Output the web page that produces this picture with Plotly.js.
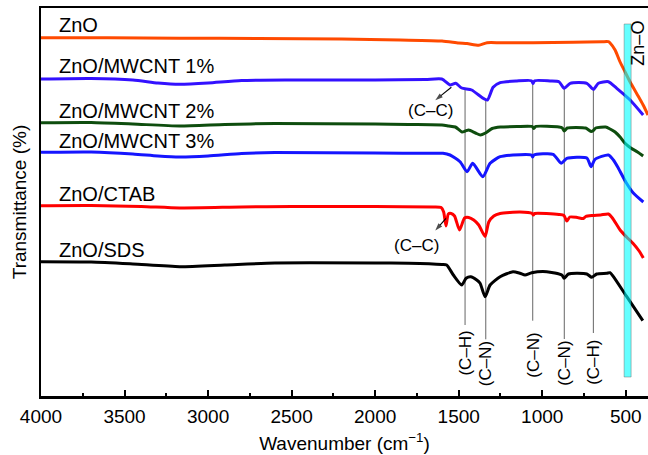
<!DOCTYPE html>
<html>
<head>
<meta charset="utf-8">
<script src="https://cdn.plot.ly/plotly-3.0.1.min.js"></script>
<style>
  html, body { margin: 0; padding: 0; background: #fff; }
  #chart { width: 648px; height: 455px; }
</style>
</head>
<body>
<div id="chart"></div>
<script>
// FTIR spectra, offset vertically (transmittance in arbitrary units)
const seriesNames = ['ZnO', 'ZnO/MWCNT 1%', 'ZnO/MWCNT 2%', 'ZnO/MWCNT 3%', 'ZnO/CTAB', 'ZnO/SDS'];
const seriesColors = ['#ff4a00', '#3311ff', '#0e4d0e', '#1515ff', '#ff0000', '#000000'];

const wnZnO = [4000, 3600, 3170, 2700, 2200, 1850, 1600, 1500, 1450, 1380, 1330, 1250, 1055, 815, 640, 604, 594, 564, 534, 504, 474, 426, 396, 367];
const tZnO  = [358.3, 358.2, 357.8, 357.5, 357, 356, 355, 353, 352.5, 350.7, 353.3, 353.3, 353.3, 353.7, 354.3, 354.3, 353, 346, 334, 324, 314, 300, 291, 281];

const wnM1 = [4000, 3700, 3450, 3300, 3170, 3000, 2800, 2500, 2000, 1700, 1601, 1552, 1518, 1482, 1422, 1354, 1328, 1294, 1252, 1152, 1065, 1055, 1045, 953, 900, 869, 833, 733, 694, 664, 604, 554, 474, 396];
const tM1  = [317, 317.5, 316, 313, 311.7, 313, 315.5, 316, 316, 316.5, 317, 311, 312.7, 308, 306, 297.7, 296, 308.7, 313.3, 315, 315.3, 312.5, 315.3, 315, 314.3, 307.7, 312.7, 312.7, 306.7, 312.7, 314.3, 307.7, 296, 281];

const wnM2 = [4000, 3700, 3450, 3170, 2900, 2600, 2000, 1800, 1600, 1560, 1520, 1480, 1460, 1440, 1400, 1370, 1340, 1300, 1250, 1150, 1060, 1050, 1040, 900, 880, 868, 850, 740, 708, 694, 680, 620, 594, 564, 534, 506, 470, 430, 396];
const tM2  = [273.3, 273.5, 272, 270, 271.5, 272.5, 272, 271.5, 271, 270, 269, 264, 265, 266, 263, 261, 263, 267.5, 269, 269.5, 269.5, 267.5, 269.5, 269, 268, 265, 268, 268, 264.5, 265.5, 268, 269, 267, 264, 259, 253, 248, 244, 240];

const wnM3 = [4000, 3700, 3450, 3300, 3170, 3000, 2800, 2600, 2000, 1650, 1594, 1552, 1492, 1450, 1416, 1356, 1312, 1252, 1175, 1065, 1057, 1050, 935, 887, 853, 733, 708, 684, 604, 574, 545, 500, 455, 395];
const tM3  = [243.7, 244, 242, 240, 239, 240, 242.5, 243.5, 243, 242.7, 242.7, 241, 234.3, 224.3, 232.7, 219.3, 232.7, 239.3, 241, 241, 239, 241, 241.7, 232.7, 237.7, 238, 229.3, 236.7, 241, 236, 228, 214, 203, 194];

const wnCTAB = [4000, 3700, 3400, 3170, 2800, 2500, 2000, 1650, 1605, 1590, 1576, 1562, 1545, 1525, 1495, 1465, 1440, 1410, 1380, 1342, 1320, 1290, 1252, 1133, 1060, 1053, 1045, 900, 870, 853, 835, 790, 754, 740, 700, 650, 604, 580, 534, 495, 456, 420, 395];
const tCTAB  = [190.3, 190.5, 189.5, 188, 189, 189.5, 189.5, 189, 188.5, 184, 170, 182, 182.5, 180, 166, 178, 178.5, 176, 171, 159.5, 174, 180, 182.5, 184, 182.5, 181, 182.5, 181.5, 180.5, 175, 179, 178.5, 177.5, 179.5, 180.5, 181, 182, 178, 166, 159, 152.5, 145, 138];

const wnSDS = [4000, 3700, 3450, 3170, 2900, 2600, 2000, 1800, 1600, 1572, 1532, 1482, 1456, 1428, 1392, 1372, 1342, 1312, 1252, 1175, 1133, 1103, 1063, 973, 883, 869, 843, 733, 704, 674, 614, 594, 574, 494, 398];
const tSDS  = [134.3, 134, 132, 129.3, 131, 133, 133, 132.7, 131.5, 131, 121, 111, 117.7, 119.3, 116, 112.7, 99.3, 111, 119.3, 124.3, 122.7, 121, 123.3, 124.3, 121, 117.7, 122, 122, 118.7, 122, 122.7, 123.3, 119.3, 99.3, 75.3];

const wavenumbers = [wnZnO, wnM1, wnM2, wnM3, wnCTAB, wnSDS];
const transmittance = [tZnO, tM1, tM2, tM3, tCTAB, tSDS];

// Assigned vibrational bands (cm^-1) and their labels
const bandWavenumbers = [1462, 1338, 1057, 868, 694];
const bandLabels = ['(C–H)', '(C–N)', '(C–N)', '(C–N)', '(C–H)'];
const bandLineEnds = [71, 56.7, 75.3, 57, 63];
const bandLabelTops = [67, 57, 65.5, 57, 58];

// Zn–O stretching region
const znoBand = [468, 510];

// (C–C) callouts: arrow from the spectrum feature to its label
const ccLabels = ['(C–C)', '(C–C)'];
const ccLabelPos = [[1668, 285.3], [1755, 150.3]];
const ccArrowTail = [[1544, 308.7], [1576, 177.7]];
const ccArrowHead = [[1640, 295.8], [1640, 165.5]];

const FONT = 'Arial, "Liberation Sans", sans-serif';

function interp(xs, ys, x) {
  for (let i = 0; i < xs.length - 1; i++) {
    const a = xs[i], b = xs[i + 1];
    if ((x <= a && x >= b) || (x >= a && x <= b)) {
      return ys[i] + (ys[i + 1] - ys[i]) * (x - a) / (b - a);
    }
  }
  return ys[ys.length - 1];
}

const traces = seriesNames.map((name, i) => ({
  type: 'scatter',
  mode: 'lines',
  name: name,
  x: wavenumbers[i],
  y: transmittance[i],
  line: { color: seriesColors[i], width: 3, shape: 'spline', smoothing: 0.6 },
  hoverinfo: 'skip'
}));

// arrows for the (C–C) callouts, head pointing at the label
ccArrowTail.forEach((tail, i) => {
  traces.push({
    type: 'scatter',
    mode: 'lines+markers',
    name: 'C–C arrow',
    x: [tail[0], ccArrowHead[i][0]],
    y: [tail[1], ccArrowHead[i][1]],
    line: { color: '#000', width: 1.1 },
    marker: { symbol: 'arrow', angleref: 'previous', size: [0, 8], color: '#000', line: { width: 0 } },
    hoverinfo: 'skip'
  });
});

const shapes = [];
bandWavenumbers.forEach((w, i) => {
  shapes.push({
    type: 'line', xref: 'x', yref: 'y', layer: 'below',
    x0: w, x1: w,
    y0: interp(wnM1, tM1, w), y1: bandLineEnds[i],
    line: { color: '#555555', width: 0.9 }
  });
});
shapes.push({
  type: 'rect', xref: 'x', yref: 'y', layer: 'above',
  x0: znoBand[1], x1: znoBand[0], y0: 19, y1: 372,
  fillcolor: '#00ffff', opacity: 0.6,
  line: { color: 'rgba(0,0,0,0.55)', width: 0.8 }
});

// Sample names, left-aligned above each spectrum
const labelY = [371, 330.5, 285, 255.5, 202.3, 146];
const annotations = seriesNames.map((name, i) => ({
  xref: 'paper', yref: 'y', x: 0.027, y: labelY[i],
  xanchor: 'left', yanchor: 'middle', showarrow: false,
  text: name, font: { family: FONT, size: 20, color: '#000' }
}));

bandWavenumbers.forEach((w, i) => {
  annotations.push({
    xref: 'x', yref: 'y', x: w, y: bandLabelTops[i],
    xanchor: 'center', yanchor: 'top', showarrow: false,
    textangle: -90, text: bandLabels[i],
    font: { family: FONT, size: 17, color: '#000' }
  });
});

annotations.push({
  xref: 'x', yref: 'y', x: 432, y: 377,
  xanchor: 'center', yanchor: 'top', showarrow: false,
  textangle: -90, text: 'Zn–O',
  font: { family: FONT, size: 18, color: '#000' }
});

ccLabels.forEach((t, i) => {
  annotations.push({
    xref: 'x', yref: 'y', x: ccLabelPos[i][0], y: ccLabelPos[i][1],
    showarrow: false, text: t,
    font: { family: FONT, size: 17, color: '#000' }
  });
});

const layout = {
  width: 648, height: 455,
  margin: { l: 41, r: 0, t: 8, b: 59 },
  paper_bgcolor: '#fff', plot_bgcolor: '#fff',
  showlegend: false,
  font: { family: FONT, size: 19, color: '#000' },
  xaxis: {
    range: [4000, 367],
    dtick: 500, tick0: 500,
    ticks: 'inside', ticklen: 6, tickwidth: 2, tickcolor: '#000',
    minor: { dtick: 250, tick0: 250, ticks: 'inside', ticklen: 3, tickwidth: 2, tickcolor: '#000' },
    showline: true, linewidth: 2.5, linecolor: '#000', mirror: true,
    showgrid: false, zeroline: false,
    ticklabelstandoff: 2,
    tickfont: { family: FONT, size: 19, color: '#000' },
    title: { text: 'Wavenumber (cm<sup>−1</sup>)', font: { family: FONT, size: 19, color: '#000' }, standoff: 11 }
  },
  yaxis: {
    range: [0, 388],
    showticklabels: false, ticks: '',
    showline: true, linewidth: 2.5, linecolor: '#000',
    showgrid: false, zeroline: false,
    title: { text: 'Transmittance (%)', font: { family: FONT, size: 19, color: '#000' }, standoff: 7 }
  },
  shapes: shapes,
  annotations: annotations
};

Plotly.newPlot('chart', traces, layout, { displayModeBar: false, staticPlot: true });
</script>
</body>
</html>
